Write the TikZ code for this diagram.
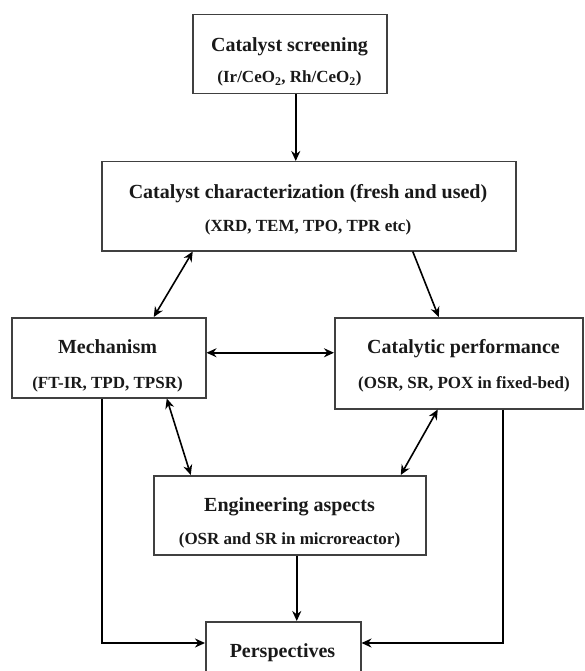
\documentclass[tikz,border=0pt]{standalone}
\usepackage{fontspec}
\setmainfont{Liberation Serif}
\usetikzlibrary{arrows.meta}
\begin{document}
\begin{tikzpicture}[x=1pt,y=-1pt,
  box/.style={draw=black!75, line width=1.5pt, inner sep=0pt, anchor=north west},
  ttl/.style={font=\bfseries\fontsize{20}{24}\selectfont, text=black!90, inner sep=0pt, anchor=base},
  subt/.style={font=\bfseries\fontsize{17}{20}\selectfont, text=black!90, inner sep=0pt, anchor=base},
  arr/.style={line width=1.6pt, -{Stealth[length=10pt,width=9pt]}},
  darr/.style={line width=1.6pt, {Stealth[length=10pt,width=9pt]}-{Stealth[length=10pt,width=9pt]}}]
\useasboundingbox (0,0) rectangle (584,671);
% boxes
\node[box, minimum width=194pt, minimum height=79pt] (b1) at (192,14) {};
\node[box, minimum width=414pt, minimum height=89pt] (b2) at (101,161) {};
\node[box, minimum width=194pt, minimum height=80pt] (m) at (11,317) {};
\node[box, minimum width=248pt, minimum height=91pt] (p) at (334,317) {};
\node[box, minimum width=272pt, minimum height=79pt] (e) at (153,475) {};
\node[box, minimum width=155pt, minimum height=100pt] (ps) at (205,621) {};
% texts
\node[ttl] (t1) at (289.5,52) {Catalyst screening};
\node[subt] (s1) at (289.5,83) {(Ir/CeO\textsubscript{2}, Rh/CeO\textsubscript{2})};
\node[ttl] (t2) at (308,198) {Catalyst characterization (fresh and used)};
\node[subt] (s2) at (308,231) {(XRD, TEM, TPO, TPR etc)};
\node[ttl] (t3) at (107.5,353) {Mechanism};
\node[subt] (s3) at (107.5,388) {(FT-IR, TPD, TPSR)};
\node[ttl] (t4) at (463.5,353) {Catalytic performance};
\node[subt] (s4) at (464,388) {(OSR, SR, POX in fixed-bed)};
\node[ttl] (t5) at (289.5,511) {Engineering aspects};
\node[subt] (s5) at (289.5,544) {(OSR and SR in microreactor)};
\node[ttl] (t6) at (282.5,657) {Perspectives};
% connectors
\coordinate (pl) at ([yshift=-22pt]ps.north west);
\coordinate (pr) at ([yshift=-22pt]ps.north east);
\draw[arr] ([xshift=6pt]b1.south) -- ([xshift=6pt]b1.south |- b2.north);
\draw[darr] ([xshift=45pt]m.north) -- ([xshift=-116pt]b2.south);
\draw[arr] ([xshift=104pt]b2.south) -- ([xshift=-20pt]p.north);
\draw[darr] ([yshift=5pt]m.east) -- ([yshift=5pt]m.east -| p.west);
\draw[darr] ([xshift=58pt]m.south) -- ([xshift=-99pt]e.north);
\draw[darr] ([xshift=-21pt]p.south) -- ([xshift=111pt]e.north);
\draw[arr] ([xshift=7pt]e.south) -- ([xshift=7pt]e.south |- ps.north);
\draw[arr] ([xshift=-7pt]m.south) |- (pl);
\draw[arr] ([xshift=44pt]p.south) |- (pr);
\end{tikzpicture}
\end{document}
